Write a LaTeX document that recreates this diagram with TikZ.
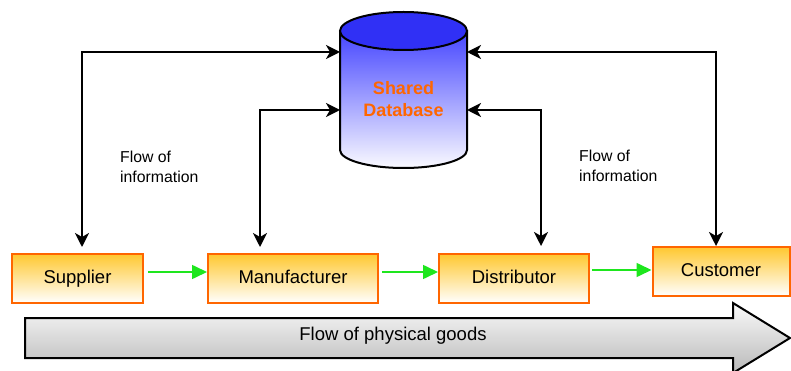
\documentclass[tikz,border=0pt]{standalone}
\usepackage{fontspec}
\setmainfont{Liberation Sans}
\usetikzlibrary{arrows.meta,calc}
\definecolor{boxedge}{RGB}{255,102,0}
\definecolor{boxtop}{RGB}{255,200,48}
\definecolor{dbblue}{RGB}{48,48,245}
\definecolor{dbtop}{RGB}{70,70,255}
\definecolor{dbbot}{RGB}{250,250,255}
\definecolor{gline}{RGB}{30,230,30}
\definecolor{dbtext}{RGB}{255,102,0}
\tikzset{
  box/.style={draw=boxedge, line width=2pt, minimum height=49pt, inner sep=0pt, font=\fontsize{18.5}{22}\selectfont,
    path picture={\shade[top color=boxtop, bottom color=white] (path picture bounding box.north west) rectangle (path picture bounding box.south east);}},
  infoarrow/.style={line width=2pt, {Stealth[length=14pt,width=14pt,inset=4pt]}-{Stealth[length=14pt,width=14pt,inset=4pt]}},
  garrow/.style={draw=gline, line width=1.6pt, -{Triangle[length=15pt,width=14pt]}},
  lbl/.style={font=\fontsize{15.8}{20}\selectfont, align=left, inner sep=0pt, anchor=west}
}
\begin{document}
\begin{tikzpicture}[x=1pt,y=1pt]
\useasboundingbox (0,0) rectangle (791,-371);
% cylinder
\shade[top color=dbtop, bottom color=dbbot, draw=black, line width=2pt]
  (340,-31) -- (340,-150) arc[start angle=180, end angle=360, x radius=63.5, y radius=18] -- (467,-31) -- cycle;
\fill[dbblue, draw=black, line width=2pt] (403.5,-31) ellipse[x radius=63.5, y radius=19];
\node[font=\bfseries\fontsize{18}{22}\selectfont, text=dbtext, align=center, inner sep=0pt] (db) at (403.5,-99) {Shared\\Database};
\coordinate (dbL1) at (340,-52);
\coordinate (dbL2) at (340,-110);
\coordinate (dbR1) at (467,-52);
\coordinate (dbR2) at (467,-110);
% boxes
\node[box, minimum width=131pt] (supplier) at (77.5,-278.5) {\raisebox{3pt}{Supplier}};
\node[box, minimum width=170pt] (manufacturer) at (293,-278.5) {\raisebox{3pt}{Manufacturer}};
\node[box, minimum width=150pt] (distributor) at (514,-278.5) {\raisebox{3pt}{Distributor}};
\node[box, minimum width=137pt] (customer) at (721,-271.5) {\raisebox{2pt}{Customer}};
% free ends of information arrows
\coordinate (sTop) at (82,-247);
\coordinate (mTop) at (260,-247);
\coordinate (dTop) at (541,-246);
\coordinate (cTop) at (716,-246);
\draw[infoarrow] (dbL1) -| (sTop);
\draw[infoarrow] (dbL2) -| (mTop);
\draw[infoarrow] (dbR2) -| (dTop);
\draw[infoarrow] (dbR1) -| (cTop);
% green arrows
\draw[garrow, shorten <=4pt] ([yshift=6.5pt]supplier.east) -- ([yshift=6.5pt]manufacturer.west);
\draw[garrow, shorten <=3pt] ([yshift=6.5pt]manufacturer.east) -- ([yshift=6.5pt]distributor.west);
\draw[garrow, shorten <=2pt] ([yshift=8.5pt]distributor.east) -- ([yshift=1.5pt]customer.west);
% labels
\node[lbl] (info1) at (120,-167) {Flow of\\information};
\node[lbl] (info2) at (579,-166) {Flow of\\information};
% big arrow
\shade[top color={rgb,255:red,250;green,250;blue,250}, bottom color={rgb,255:red,185;green,185;blue,185}, draw=black, line width=2pt]
  (25,-318) -- (733,-318) -- (733,-303) -- (790,-338) -- (733,-373) -- (733,-358) -- (25,-358) -- cycle;
\node[font=\fontsize{18.5}{22}\selectfont, inner sep=0pt] (goods) at (393,-336) {Flow of physical goods};
\end{tikzpicture}
\end{document}
